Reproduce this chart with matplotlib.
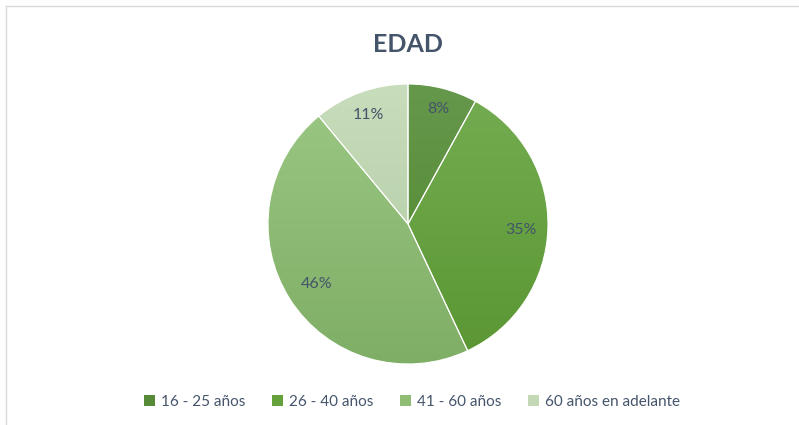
import matplotlib
matplotlib.use("Agg")
import matplotlib.pyplot as plt
import numpy as np
from matplotlib.colors import to_rgb
from matplotlib.patches import Rectangle

categories = ["16 - 25 años", "26 - 40 años", "41 - 60 años", "60 años en adelante"]
values = [8, 35, 46, 11]
title = "EDAD"

top_colors = ["#66984c", "#74ad52", "#9cc884", "#c8ddbb"]
bot_colors = ["#4d8629", "#5a9632", "#7fae66", "#afc8a1"]
base_colors = ["#568a36", "#65a23b", "#8fbd74", "#c3d8b5"]
label_dist = [0.86, 0.81, 0.77, 0.84]

W, H = 799, 425
fig = plt.figure(figsize=(W / 100, H / 100), dpi=100)
ax = fig.add_axes([0, 0, 1, 1])

cx, cy, r = 408, H - 224, 140
wedges, texts, autotexts = ax.pie(
    values, colors=base_colors, startangle=90, counterclock=False,
    center=(cx, cy), radius=r, autopct="%1.0f%%", pctdistance=0.8,
    wedgeprops=dict(edgecolor="white", linewidth=0.8),
    textprops=dict(color="#44546a", fontsize=11.5, family="Lato"),
    frame=True,
)
ax.set_aspect("auto")
ax.axis("off")

# gradient fill per wedge
n = 256
for w, tc, bc in zip(wedges, top_colors, bot_colors):
    t = np.array(to_rgb(tc)); b = np.array(to_rgb(bc))
    frac = np.linspace(0, 1, n)[:, None]
    img = (t[None, :] * (1 - frac) + b[None, :] * frac)[:, None, :]
    im = ax.imshow(img, extent=(cx - r, cx + r, cy - r, cy + r), origin="upper",
                   aspect="auto", zorder=w.get_zorder() + 0.1)
    im.set_clip_path(w)
    w.set_facecolor("none")
    w.set_zorder(w.get_zorder() + 0.2)

# reposition labels
for w, t, d in zip(wedges, autotexts, label_dist):
    ang = np.deg2rad((w.theta1 + w.theta2) / 2)
    t.set_position((cx + d * r * np.cos(ang), cy + d * r * np.sin(ang) - 2))
    t.set_zorder(10)

ax.set_xlim(0, W)
ax.set_ylim(0, H)

fig.text(408 / W, 1 - 44 / H, title, ha="center", va="center",
         fontsize=18, fontweight="bold", color="#44546a", family="Lato")

handles = [Rectangle((0, 0), 1, 1, facecolor=c, edgecolor="none") for c in base_colors]
leg = fig.legend(handles, categories, loc="center", bbox_to_anchor=(412 / W, 1 - 402 / H),
                 ncol=4, frameon=False, handlelength=0.7, handleheight=0.7,
                 handletextpad=0.4, columnspacing=1.75,
                 prop=dict(family="Lato", size=11))
for txt in leg.get_texts():
    txt.set_color("#44546a")

# chart border (left and top)
fig.add_artist(plt.Line2D([6 / W, 6 / W], [0, 1 - 6 / H], transform=fig.transFigure,
                          color="#d9d9d9", lw=1))
fig.add_artist(plt.Line2D([6 / W, 1], [1 - 6 / H, 1 - 6 / H], transform=fig.transFigure,
                          color="#d9d9d9", lw=1))

fig.savefig("out.png", dpi=100)
